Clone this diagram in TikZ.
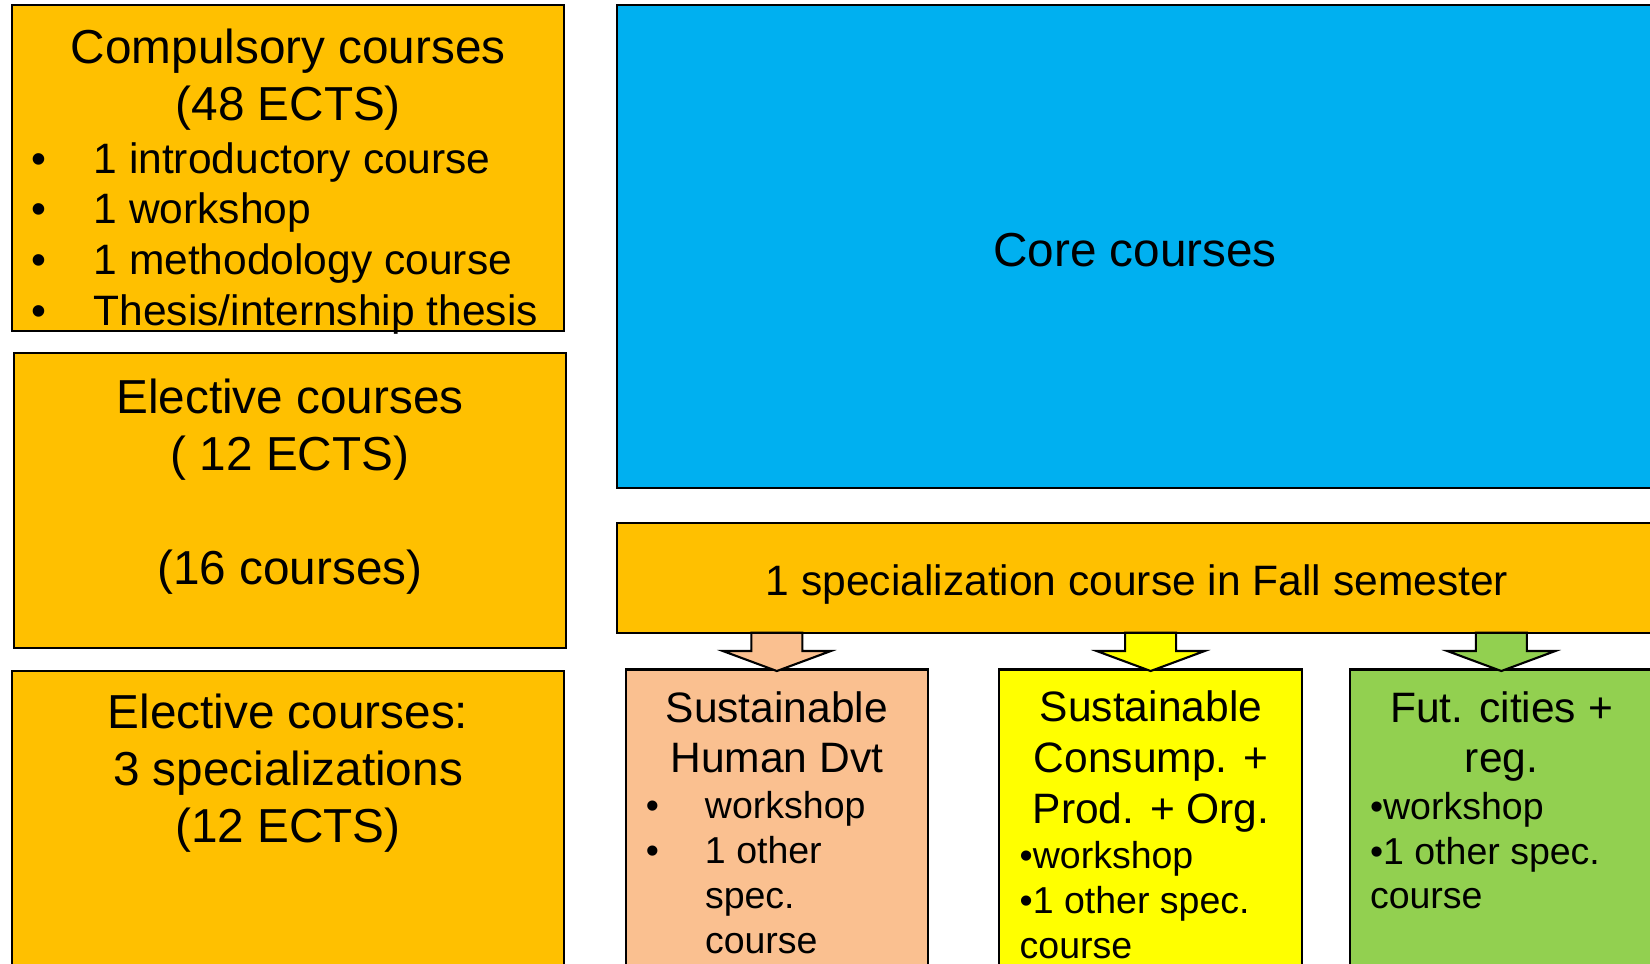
\documentclass[tikz,border=0pt]{standalone}
\usepackage{fontspec}
\setmainfont{Liberation Sans}
\usetikzlibrary{calc}

\definecolor{gold}{HTML}{FFC000}
\definecolor{sky}{HTML}{00B0F0}
\definecolor{peach}{HTML}{FAC090}
\definecolor{lemon}{HTML}{FFFF00}
\definecolor{lime}{HTML}{92D050}

\tikzset{
    box/.style={draw, line width=0.6pt, inner sep=0pt, outer sep=0pt, anchor=north west},
    txt/.style={inner sep=0pt, outer sep=0pt},
    bigfont/.style={font=\fontsize{13.57pt}{16.2pt}\selectfont},
    midfont/.style={font=\fontsize{12.1pt}{14.45pt}\selectfont},
    smallfont/.style={font=\fontsize{10.67pt}{12.78pt}\selectfont},
}

\newcommand{\bul}[1]{\makebox[#1][l]{•}}
\newcommand{\specarrow}[2]{%
    \draw[line width=0.6pt, fill=#2] ($(#1.north)+(0,1.5)$) -- ($(#1.north)+(-54,-18.5)$)
        -- ($(#1.north)+(-25.5,-18.5)$) -- ($(#1.north |- bar.south)+(-25.5,0)$)
        -- ($(#1.north |- bar.south)+(25.5,0)$) -- ($(#1.north)+(25.5,-18.5)$)
        -- ($(#1.north)+(54,-18.5)$) -- cycle;}

\begin{document}
\begin{tikzpicture}[x=0.1mm, y=-0.1mm]
        \useasboundingbox (0,0) rectangle (1650,963);
        \clip (0,0) rectangle (1650,963);

        \node[box, fill=gold, minimum width=55.27mm, minimum height=32.54mm] (comp) at (11.6,5.3) {};
        \node[box, fill=gold, minimum width=55.23mm, minimum height=29.44mm] (elect) at (13.7,353.3) {};
        \node[box, fill=gold, minimum width=55.27mm, minimum height=33mm] (spec) at (11.6,671) {};
        \node[box, fill=sky, minimum width=103.47mm, minimum height=48.3mm] (core) at (617.3,5.3) {};
        \node[box, fill=gold, minimum width=103.47mm, minimum height=11mm] (bar) at (617.3,522.7) {};

        \node[box, fill=peach, minimum width=30.23mm, minimum height=33mm] (human) at (625.7,669.5) {};
        \node[box, fill=lemon, minimum width=30.27mm, minimum height=33mm] (consump) at (999.3,669.5) {};
        \node[box, fill=lime, minimum width=30.2mm, minimum height=33mm] (cities) at (1350.3,669.5) {};

        \specarrow{human}{peach}
        \specarrow{consump}{lemon}
        \specarrow{cities}{lime}

        % base = baseline of the last line
        \node[txt, bigfont, align=center, anchor=base] (comptitle) at (288.3,120.3) {Compulsory courses\\(48 ECTS)};
        \node[txt, midfont, align=left, anchor=base west] (compitems) at (31.6,325.5)
            {\bul{6.2mm}1 introductory course\\\bul{6.2mm}1 workshop\\\bul{6.2mm}1 methodology course\\\bul{6.2mm}Thesis/internship thesis};
        \node[txt, bigfont, align=center, anchor=base] (electtext) at (290,584.2) {Elective courses\\( 12 ECTS)\\[16.2pt](16 courses)};
        \node[txt, bigfont, align=center, anchor=base] (spectext) at (288,842.5) {Elective courses:\\3 specializations\\(12 ECTS)};
        \node[txt, bigfont, anchor=base] (coretext) at (1135,266) {Core courses};
        \node[txt, midfont, anchor=base] (bartext) at (1137,595.2) {1 specialization course in Fall semester};

        \node[txt, midfont, align=center, anchor=base] (humantitle) at (776.8,772.8) {Sustainable\\Human Dvt};
        \node[txt, smallfont, align=left, anchor=base west] (humanitems) at (645.8,953.1)
            {\bul{5.92mm}workshop\\\bul{5.92mm}1 other\\\hspace*{5.92mm}spec.\\\hspace*{5.92mm}course};
        \node[txt, midfont, align=center, anchor=base] (consumptitle) at (1151,823.4) {Sustainable\\Consump. +\\Prod. + Org.};
        \node[txt, smallfont, align=left, anchor=base west] (consumpitems) at (1019.7,958.4) {•workshop\\•1 other spec.\\course};
        \node[txt, midfont, align=center, anchor=base] (citiestitle) at (1501.6,772.8) {Fut. cities +\\reg.};
        \node[txt, smallfont, align=left, anchor=base west] (citiesitems) at (1370,908.9) {•workshop\\•1 other spec.\\course};

\end{tikzpicture}
\end{document}
